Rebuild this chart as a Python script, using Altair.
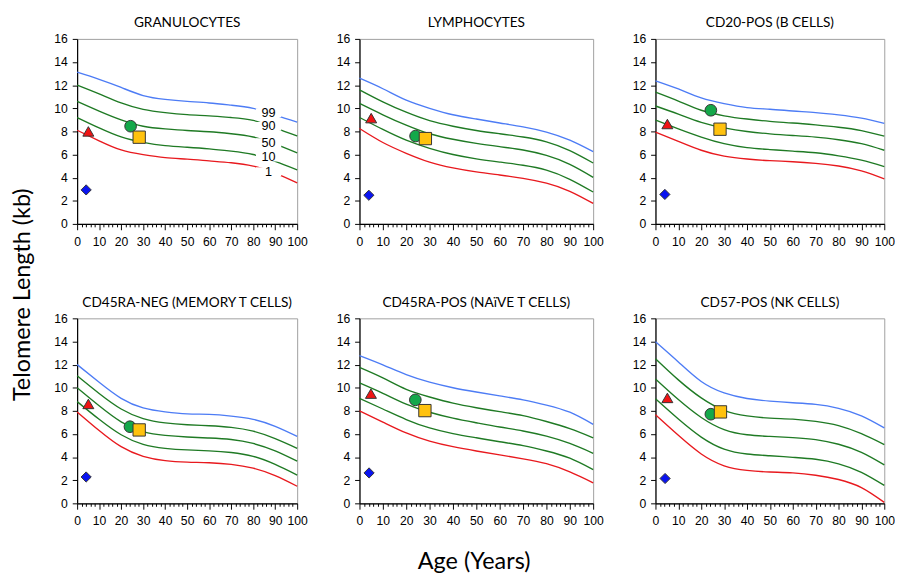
import altair as alt
import pandas as pd

AGES = [0, 10, 20, 30, 40, 50, 60, 70, 80, 90, 100]
PCTS = ["1", "10", "50", "90", "99"]
PCT_COLORS = ["#E8191E", "#1F7A24", "#1F7A24", "#1F7A24", "#4D7CF5"]

TITLES = [
    "GRANULOCYTES",
    "LYMPHOCYTES",
    "CD20-POS (B CELLS)",
    "CD45RA-NEG (MEMORY T CELLS)",
    "CD45RA-POS (NAïVE T CELLS)",
    "CD57-POS (NK CELLS)",
]

GRAN = {
    "99": [13.12, 12.50, 11.80, 11.10, 10.77, 10.60, 10.46, 10.27, 9.99, 9.40, 8.81],
    "90": [12.00, 11.24, 10.46, 9.90, 9.62, 9.45, 9.34, 9.20, 8.95, 8.30, 7.60],
    "50": [10.60, 9.76, 9.00, 8.45, 8.22, 8.08, 7.97, 7.80, 7.52, 6.90, 6.15],
    "10": [9.20, 8.30, 7.52, 7.05, 6.77, 6.63, 6.49, 6.29, 6.00, 5.40, 4.67],
    "1": [8.10, 7.19, 6.40, 5.99, 5.73, 5.60, 5.45, 5.29, 5.00, 4.40, 3.55],
}
LYMPH = {
    "99": [12.60, 11.69, 10.70, 10.00, 9.44, 9.07, 8.73, 8.39, 7.94, 7.24, 6.25],
    "90": [11.60, 10.56, 9.66, 8.93, 8.45, 8.08, 7.80, 7.52, 7.10, 6.34, 5.27],
    "50": [10.42, 9.44, 8.54, 7.80, 7.32, 6.96, 6.68, 6.39, 5.92, 5.15, 4.03],
    "10": [9.21, 8.17, 7.24, 6.54, 6.00, 5.63, 5.35, 5.07, 4.65, 3.86, 2.76],
    "1": [8.25, 7.04, 6.11, 5.35, 4.85, 4.50, 4.23, 3.94, 3.52, 2.82, 1.77],
}
BCELL = {
    "99": [12.38, 11.67, 10.90, 10.40, 10.06, 9.92, 9.77, 9.63, 9.43, 9.15, 8.70],
    "90": [11.39, 10.62, 9.83, 9.35, 9.07, 8.87, 8.73, 8.56, 8.36, 8.07, 7.59],
    "50": [10.20, 9.49, 8.78, 8.30, 7.99, 7.79, 7.65, 7.51, 7.28, 6.94, 6.37],
    "10": [8.98, 8.22, 7.51, 6.94, 6.60, 6.43, 6.29, 6.15, 5.89, 5.52, 4.96],
    "1": [7.93, 7.14, 6.37, 5.86, 5.61, 5.47, 5.38, 5.24, 5.01, 4.59, 3.90],
}
MEMT = {
    "99": [12.00, 10.47, 9.08, 8.25, 7.91, 7.74, 7.69, 7.55, 7.27, 6.66, 5.79],
    "90": [11.03, 9.50, 8.16, 7.33, 6.96, 6.80, 6.71, 6.57, 6.24, 5.60, 4.76],
    "50": [10.00, 8.44, 7.05, 6.21, 5.88, 5.74, 5.65, 5.52, 5.18, 4.54, 3.65],
    "10": [8.80, 7.27, 5.93, 5.10, 4.76, 4.62, 4.54, 4.40, 4.07, 3.37, 2.45],
    "1": [7.91, 6.30, 4.90, 4.07, 3.70, 3.57, 3.51, 3.37, 3.04, 2.40, 1.48],
}
NAIVET = {
    "99": [12.78, 11.98, 11.13, 10.48, 10.00, 9.63, 9.29, 8.95, 8.50, 7.88, 6.83],
    "90": [11.76, 10.85, 9.86, 9.20, 8.67, 8.27, 7.93, 7.59, 7.08, 6.46, 5.67],
    "50": [10.42, 9.52, 8.58, 7.88, 7.37, 6.97, 6.60, 6.26, 5.81, 5.18, 4.33],
    "10": [9.07, 8.16, 7.25, 6.52, 6.03, 5.67, 5.33, 4.99, 4.53, 3.91, 2.92],
    "1": [7.99, 7.03, 6.09, 5.38, 4.90, 4.53, 4.19, 3.85, 3.43, 2.72, 1.78],
}
NK = {
    "99": [13.98, 12.23, 10.54, 9.55, 9.07, 8.84, 8.70, 8.56, 8.22, 7.57, 6.53],
    "90": [12.51, 10.68, 9.12, 8.05, 7.57, 7.37, 7.29, 7.09, 6.72, 6.02, 5.08],
    "50": [10.76, 8.98, 7.43, 6.38, 5.93, 5.79, 5.68, 5.51, 5.11, 4.41, 3.33],
    "10": [9.04, 7.29, 5.73, 4.69, 4.27, 4.12, 3.98, 3.81, 3.42, 2.68, 1.55],
    "1": [7.66, 5.88, 4.27, 3.25, 2.85, 2.71, 2.63, 2.43, 2.06, 1.36, 0.08],
}
CURVES = [GRAN, LYMPH, BCELL, MEMT, NAIVET, NK]

# patient markers: diamond, triangle, circle, square
MARK_KIND = ["diamond", "triangle", "circle", "square"]
MARK_FILL = ["#0A14F0", "#F01414", "#14A84A", "#FFC20E"]
MARK_SHAPE = ["diamond", "triangle-up", "circle", "square"]
MARK_SIZE = [110, 160, 135, 135]
MARK_AGE = [
    [4.1, 5.1, 24.3, 28.2],
    [4.0, 5.0, 24.0, 28.2],
    [4.1, 5.2, 24.2, 28.2],
    [4.1, 5.1, 24.0, 28.2],
    [4.1, 4.9, 23.9, 28.0],
    [4.2, 5.2, 24.2, 28.4],
]
MARK_TL = [
    [2.94, 8.00, 8.45, 7.50],
    [2.48, 9.15, 7.60, 7.38],
    [2.55, 8.64, 9.83, 8.19],
    [2.28, 8.60, 6.63, 6.35],
    [2.63, 9.49, 8.95, 8.02],
    [2.15, 9.12, 7.71, 7.91],
]

LABEL_TEXT = ["99", "90", "50", "10", "1"]
LABEL_TL = [9.62, 8.44, 7.03, 5.78, 4.52]
LABEL_AGE = 87

X_TICKS = list(range(0, 101, 2))
Y_TICKS = list(range(0, 17, 2))

WIDTHS = [226, 240, 235]
HEIGHT = 190


def panel(i):
    curves = CURVES[i]
    rows = []
    for p in PCTS:
        for a, v in zip(AGES, curves[p]):
            rows.append({"age": a, "tl": v, "pct": p})
    df = pd.DataFrame(rows)

    xenc = alt.X(
        "age:Q",
        scale=alt.Scale(domain=[0, 100], nice=False),
        axis=alt.Axis(
            values=X_TICKS,
            labelExpr="datum.value % 10 === 0 ? datum.label : ''",
            tickSize={"condition": {"test": "datum.value % 10 === 0", "value": 6}, "value": 3},
            labelOverlap=False,
            labelFlush=False,
            labelPadding=6,
            title=None,
        ),
    )
    yenc = alt.Y(
        "tl:Q",
        scale=alt.Scale(domain=[0, 16], nice=False),
        axis=alt.Axis(values=Y_TICKS, tickSize=5, labelPadding=5, labelOverlap=False, title=None),
    )

    lines = alt.Chart(df).mark_line(interpolate="natural", strokeWidth=1.4).encode(
        x=xenc,
        y=yenc,
        color=alt.Color("pct:N", scale=alt.Scale(domain=PCTS, range=PCT_COLORS), legend=None),
        detail="pct:N",
    )

    mdf = pd.DataFrame({
        "age": MARK_AGE[i],
        "tl": MARK_TL[i],
        "kind": MARK_KIND,
    })
    marks = alt.Chart(mdf).mark_point(filled=True, stroke="#333333", strokeWidth=1, opacity=1).encode(
        x=xenc,
        y=yenc,
        shape=alt.Shape("kind:N", scale=alt.Scale(domain=MARK_KIND, range=MARK_SHAPE), legend=None),
        fill=alt.Fill("kind:N", scale=alt.Scale(domain=MARK_KIND, range=MARK_FILL), legend=None),
        size=alt.Size("kind:N", scale=alt.Scale(domain=MARK_KIND, range=MARK_SIZE), legend=None),
    )

    layers = [lines]
    if i == 0:
        ldf = pd.DataFrame({"age": [LABEL_AGE] * 5, "tl": LABEL_TL, "lab": LABEL_TEXT})
        gap = alt.Chart(ldf).mark_rect(color="white", width=26, height=9).encode(x=xenc, y=yenc)
        txt = alt.Chart(ldf).mark_text(
            font="Liberation Sans", fontSize=13, color="black"
        ).encode(x=xenc, y=yenc, text="lab:N")
        layers += [gap, txt]
    layers.append(marks)

    return alt.layer(*layers).properties(
        width=WIDTHS[i % 3],
        height=HEIGHT,
        title=alt.TitleParams(TITLES[i], font="Lato", fontSize=14, fontWeight="normal", offset=3),
    )


row1 = alt.hconcat(panel(0), panel(1), panel(2), spacing=28)
row2 = alt.hconcat(panel(3), panel(4), panel(5), spacing=28)
grid = alt.vconcat(row1, row2, spacing=48).properties(
    title=alt.TitleParams(
        "Age (Years)", orient="bottom", anchor="middle", font="Lato", fontSize=24,
        fontWeight="normal", offset=23,
    )
)
chart = alt.hconcat(grid).properties(
    title=alt.TitleParams(
        "Telomere Length (kb)", orient="left", anchor="middle", font="Lato", fontSize=24,
        fontWeight="normal", offset=19,
    ),
    padding={"left": 3, "top": 0, "right": 0, "bottom": 0},
).configure_axis(
    labelFont="Liberation Sans",
    labelFontSize=12.5,
    labelColor="black",
    domainColor="black",
    tickColor="black",
    domainWidth=1.2,
    labelOverlap=False,
    grid=False,
).configure_view(stroke="#9E9E9E", strokeWidth=1).configure_title(color="black")

chart.save("out.html", embed_options={"renderer": "svg", "actions": False})
